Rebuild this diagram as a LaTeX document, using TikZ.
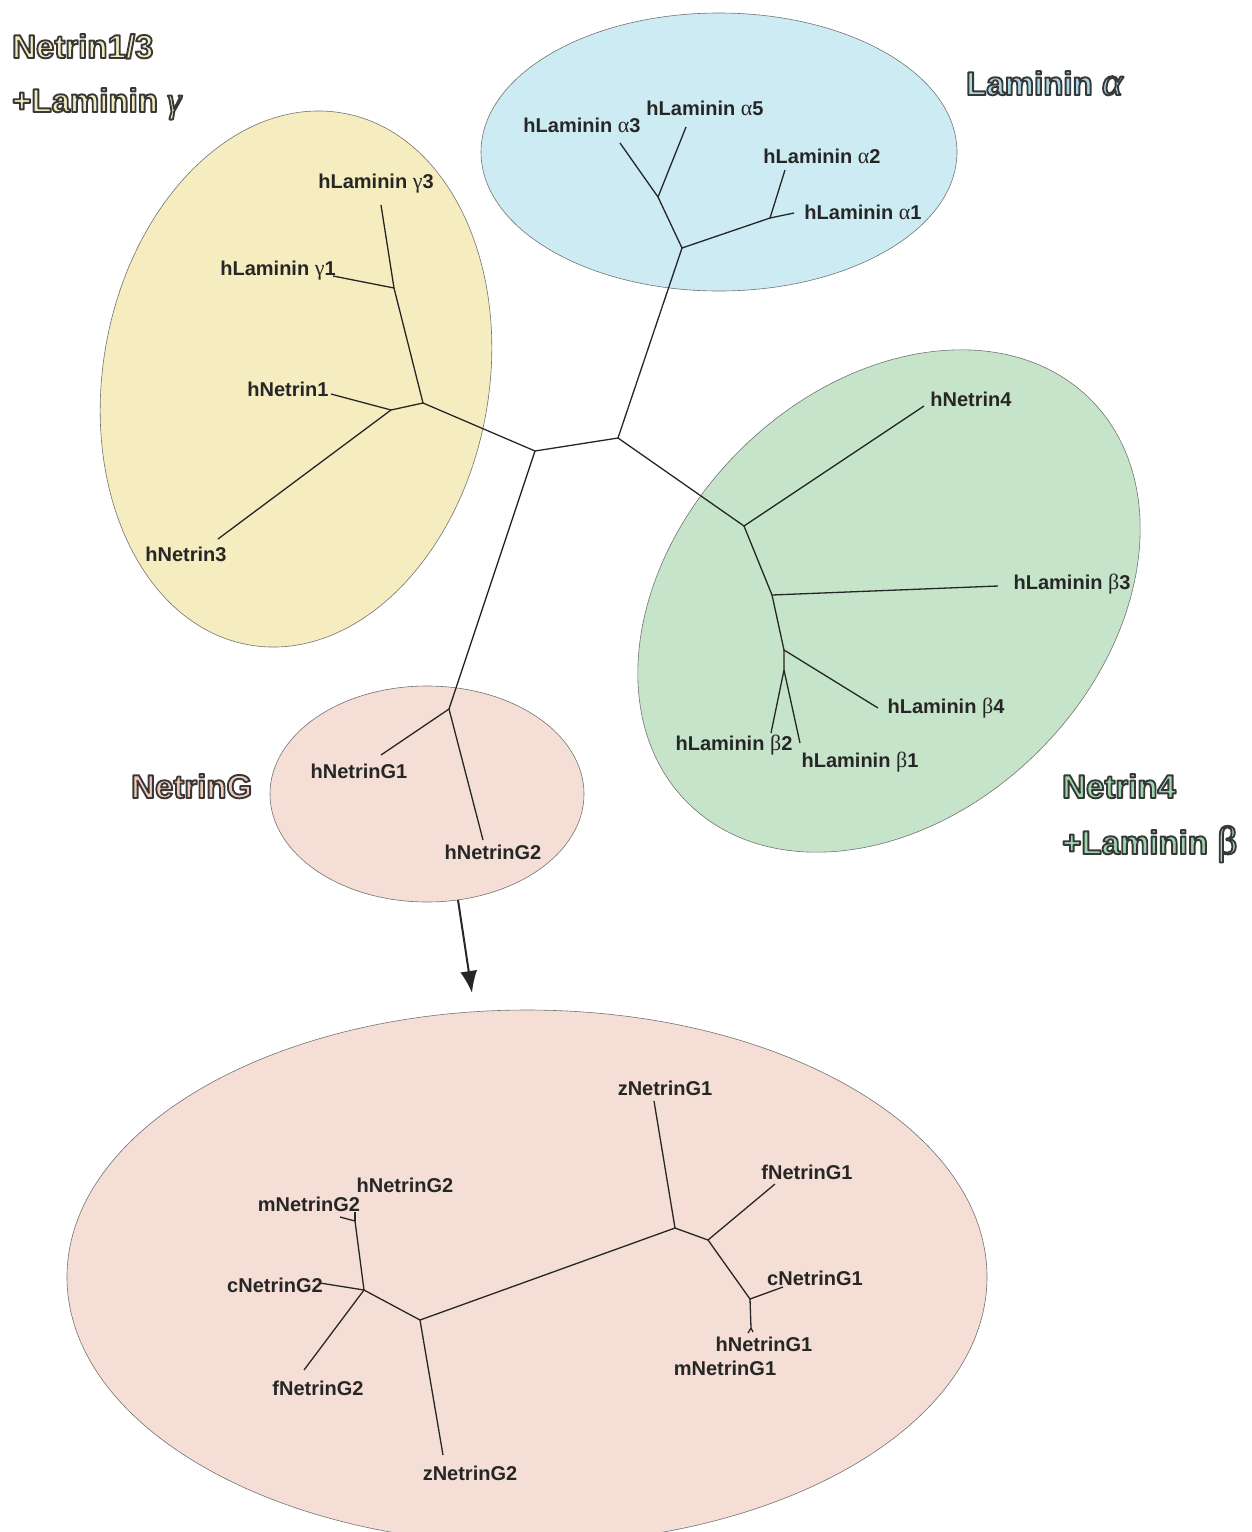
\documentclass[tikz,border=0pt]{standalone}
\usepackage{fontspec}
\usetikzlibrary{arrows.meta}
\setmainfont{Liberation Sans}
\newfontfamily\grk{Liberation Serif}
\definecolor{blueF}{HTML}{CDEBF3}
\definecolor{yelF}{HTML}{F5ECBF}
\definecolor{grnF}{HTML}{C6E4C9}
\definecolor{pinkF}{HTML}{F5DED5}
\definecolor{blueT}{HTML}{A9D9E6}
\definecolor{yelT}{HTML}{F3ECC0}
\definecolor{grnT}{HTML}{9FD8AE}
\definecolor{pinkT}{HTML}{F2CBBB}
% outlined text: fill in colour #1, dark stroke (PDF text render mode 2)
\newcommand\outl[2]{{\color{#1}\special{pdf:literal direct 2 Tr 1.9 w 1 j 0.22 0.22 0.22 RG}#2\special{pdf:literal direct 0 Tr}}}
\newcommand\gk[1]{{\grk\mdseries\fontsize{22}{23}\selectfont #1}}
\begin{document}
\begin{tikzpicture}[x=1pt,y=-1pt,
  lbl/.style={font=\fontsize{20}{23}\selectfont\bfseries, inner sep=0pt, text=black!85},
  ttl/.style={font=\fontsize{33}{38}\selectfont\bfseries, inner sep=0pt, anchor=base west},
  br/.style={line width=1.3pt, draw=black!85},
  grp/.style={draw=black!55, line width=0.6pt}]
\useasboundingbox (0,0) rectangle (1252,1532);
% group ellipses
\draw[grp, fill=blueF] (719,152) ellipse [x radius=238, y radius=139];
\draw[grp, fill=yelF, rotate around={-10:(296,379)}] (296,379) ellipse [x radius=193, y radius=270];
\draw[grp, fill=grnF, rotate around={45:(889,601)}] (889,601) ellipse [x radius=285, y radius=212];
\draw[grp, fill=pinkF] (427,794) ellipse [x radius=157, y radius=108];
\draw[grp, fill=pinkF] (527,1277) ellipse [x radius=460, y radius=267];
% titles
\node[ttl] (t1) at (12,58) {\outl{yelT}{Netrin1/3}};
\node[ttl] (t2) at (12,112) {\outl{yelT}{+Laminin {\grk\itshape\mdseries\fontsize{36}{40}\selectfont γ}}};
\node[ttl] (t3) at (966,95) {\outl{blueT}{Laminin {\grk\itshape\mdseries\fontsize{40}{40}\selectfont α}}};
\node[ttl] (t4) at (1062,798) {\outl{grnT}{Netrin4}};
\node[ttl] (t5) at (1062,854) {\outl{grnT}{+Laminin {\grk\mdseries\fontsize{40}{40}\selectfont β}}};
\node[ttl] (t6) at (131,798) {\outl{pinkT}{NetrinG}};
% main tree coordinates
\coordinate (c1) at (535,451);
\coordinate (c2) at (618,438);
\coordinate (ra) at (682,248);
\coordinate (a35) at (658,197);
\coordinate (a3) at (620,143);
\coordinate (a5) at (686,127);
\coordinate (a12) at (770,218);
\coordinate (a2) at (785,170);
\coordinate (a1) at (794,213);
\coordinate (rg) at (423,403);
\coordinate (g13) at (394,288);
\coordinate (g3) at (381,205);
\coordinate (g1) at (333,276);
\coordinate (n13) at (391,410);
\coordinate (n1) at (331,394);
\coordinate (n3) at (218,539);
\coordinate (rb) at (744,526);
\coordinate (n4) at (924,406);
\coordinate (b3j) at (772,595);
\coordinate (b3) at (998,586);
\coordinate (b4j) at (784,650);
\coordinate (b4) at (878,708);
\coordinate (b12) at (784,670);
\coordinate (b2) at (771,733);
\coordinate (b1) at (800,743);
\coordinate (rn) at (449,709);
\coordinate (ng1) at (381,755);
\coordinate (ng2) at (483,840);
\draw[br] (c1) -- (c2);
\draw[br] (c2) -- (ra);
\draw[br] (ra) -- (a35) -- (a3);
\draw[br] (a35) -- (a5);
\draw[br] (ra) -- (a12) -- (a1);
\draw[br] (a12) -- (a2);
\draw[br] (c1) -- (rg);
\draw[br] (rg) -- (g13) -- (g3);
\draw[br] (g13) -- (g1);
\draw[br] (rg) -- (n13) -- (n1);
\draw[br] (n13) -- (n3);
\draw[br] (c2) -- (rb) -- (n4);
\draw[br] (rb) -- (b3j) -- (b3);
\draw[br] (b3j) -- (b4j) -- (b4);
\draw[br] (b4j) -- (b12) -- (b2);
\draw[br] (b12) -- (b1);
\draw[br] (c1) -- (rn);
\draw[br] (rn) -- (ng1);
\draw[br] (rn) -- (ng2);
% main tree labels
\node[lbl] (La3) at (582,125) {hLaminin \gk{α}3};
\node[lbl] (La5) at (705,108) {hLaminin \gk{α}5};
\node[lbl] (La2) at (822,156) {hLaminin \gk{α}2};
\node[lbl] (La1) at (863,212) {hLaminin \gk{α}1};
\node[lbl] (Lg3) at (376,184) {hLaminin \gk{γ}3};
\node[lbl] (Lg1) at (278,271) {hLaminin \gk{γ}1};
\node[lbl] (Ln1) at (288,389) {hNetrin1};
\node[lbl] (Ln3) at (186,554) {hNetrin3};
\node[lbl] (Ln4) at (971,399) {hNetrin4};
\node[lbl] (Lb3) at (1072,584) {hLaminin \gk{β}3};
\node[lbl] (Lb4) at (946,708) {hLaminin \gk{β}4};
\node[lbl] (Lb2) at (734,745) {hLaminin \gk{β}2};
\node[lbl] (Lb1) at (860,762) {hLaminin \gk{β}1};
\node[lbl] (Lng1) at (359,771) {hNetrinG1};
\node[lbl] (Lng2) at (493,852) {hNetrinG2};
% arrow
\coordinate (ar1) at (458,900);
\coordinate (ar2) at (472,993);
\draw[line width=2pt, black!85, -{Latex[length=22pt,width=17pt]}] (ar1) -- (ar2);
% bottom tree
\coordinate (d1) at (420,1320);
\coordinate (d2) at (675,1228);
\coordinate (zg1) at (654,1101);
\coordinate (e1) at (708,1240);
\coordinate (fg1) at (775,1184);
\coordinate (e2) at (750,1299);
\coordinate (cg1) at (783,1287);
\coordinate (e3) at (751,1328);
\coordinate (hg1) at (748,1333);
\coordinate (mg1) at (753,1332);
\coordinate (e4) at (364,1290);
\coordinate (e5) at (355,1221);
\coordinate (mg2) at (340,1217);
\coordinate (hg2) at (355,1212);
\coordinate (cg2) at (320,1283);
\coordinate (fg2) at (304,1370);
\coordinate (zg2) at (443,1455);
\draw[br] (d1) -- (d2) -- (zg1);
\draw[br] (d2) -- (e1) -- (fg1);
\draw[br] (e1) -- (e2) -- (cg1);
\draw[br] (e2) -- (e3) -- (hg1);
\draw[br] (e3) -- (mg1);
\draw[br] (d1) -- (e4) -- (e5) -- (mg2);
\draw[br] (e5) -- (hg2);
\draw[br] (e4) -- (cg2);
\draw[br] (e4) -- (fg2);
\draw[br] (d1) -- (zg2);
\node[lbl] (Lzg1) at (665,1088) {zNetrinG1};
\node[lbl] (Lfg1) at (807,1172) {fNetrinG1};
\node[lbl] (Lcg1) at (815,1278) {cNetrinG1};
\node[lbl] (Lhg1) at (764,1344) {hNetrinG1};
\node[lbl] (Lmg1) at (725,1368) {mNetrinG1};
\node[lbl] (Lhg2) at (405,1185) {hNetrinG2};
\node[lbl] (Lmg2) at (309,1204) {mNetrinG2};
\node[lbl] (Lcg2) at (275,1285) {cNetrinG2};
\node[lbl] (Lfg2) at (318,1388) {fNetrinG2};
\node[lbl] (Lzg2) at (470,1473) {zNetrinG2};
\end{tikzpicture}
\end{document}
